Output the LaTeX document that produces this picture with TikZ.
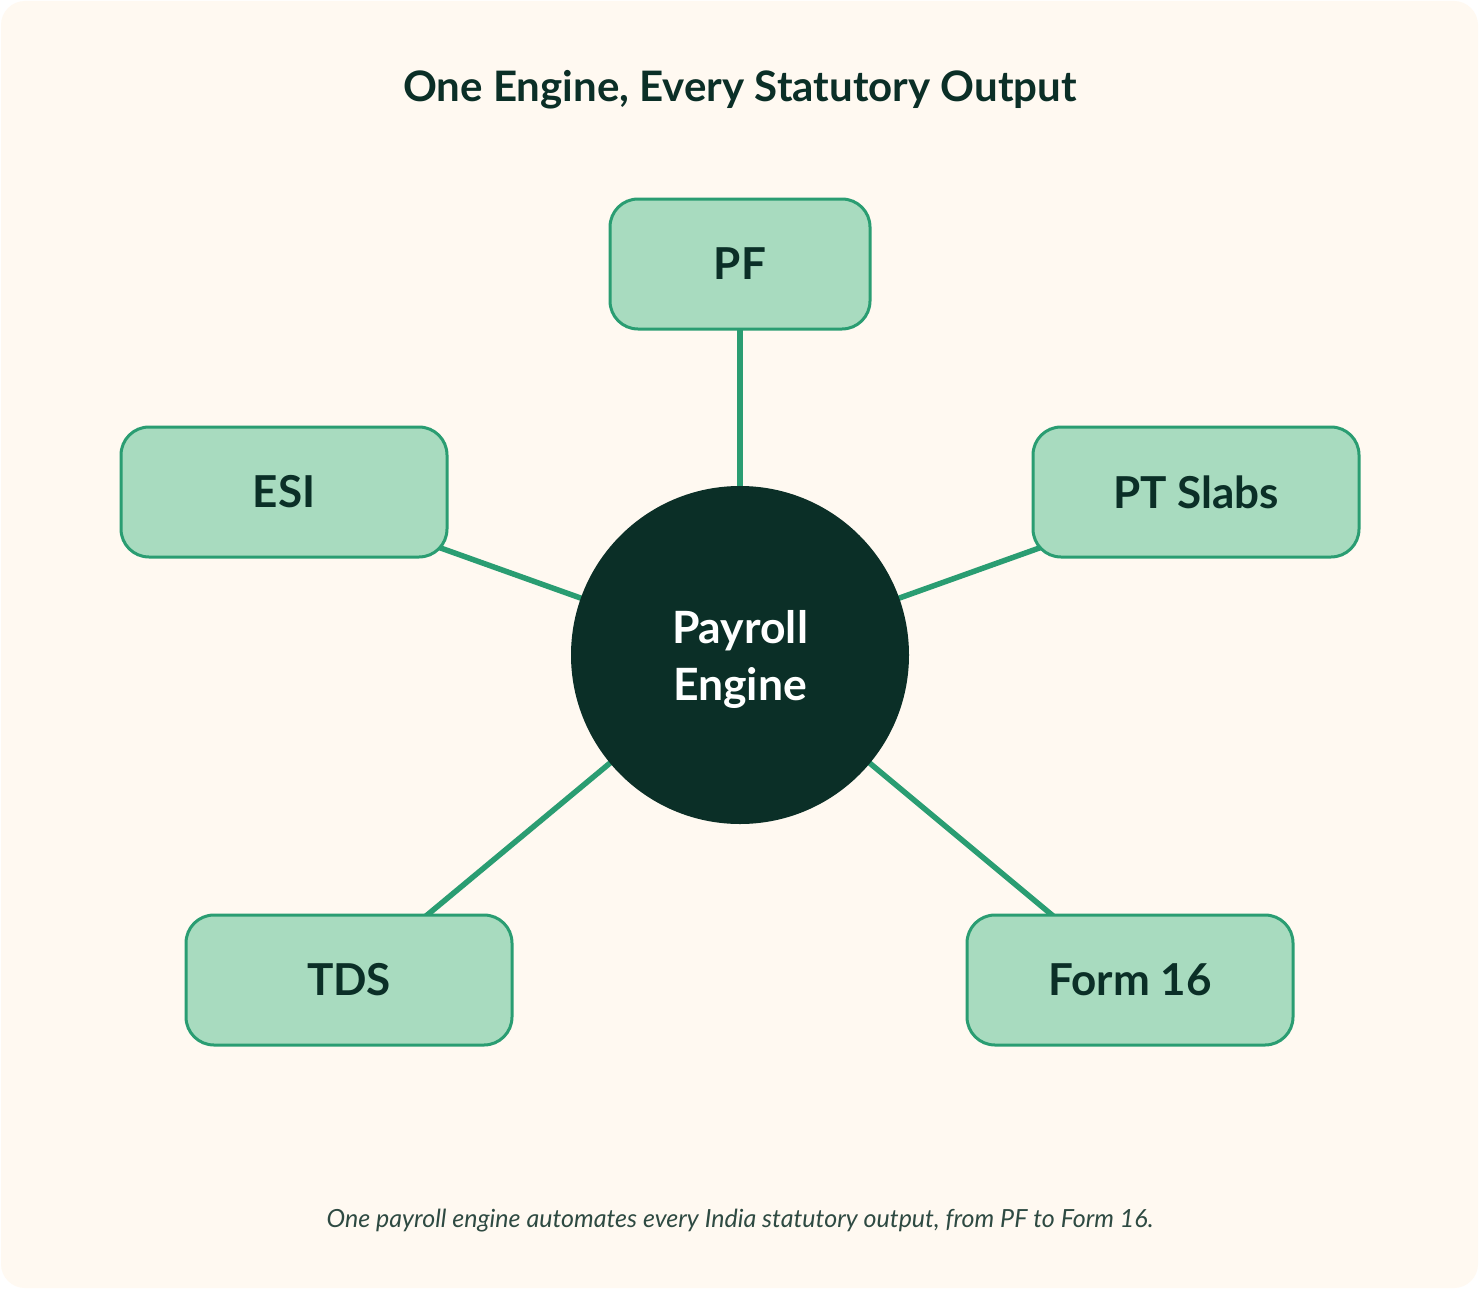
\documentclass[tikz,border=0pt]{standalone}
\usepackage{fontspec}
\setmainfont{Lato}
\usetikzlibrary{positioning}

\definecolor{paper}{HTML}{FFF9F1}
\definecolor{ink}{HTML}{0B2F27}
\definecolor{boxgreen}{HTML}{A8DBBF}
\definecolor{linkgreen}{HTML}{2A9D72}
\definecolor{notegray}{HTML}{2E4A42}

\pgfdeclarelayer{sheet}
\pgfdeclarelayer{links}
\pgfsetlayers{sheet,links,main}

\begin{document}
\begin{tikzpicture}[x=1pt,y=-1pt]
\tikzstyle{output}=[draw=linkgreen,fill=boxgreen,line width=3pt,rounded corners=28pt,minimum width=326pt,minimum height=130pt,text=ink,font=\bfseries\fontsize{44}{50}\selectfont]
\tikzstyle{link}=[draw=linkgreen,line width=5.5pt]

\useasboundingbox (0,0) rectangle (1480,1290);
\begin{pgfonlayer}{sheet}
\fill[white] (0,0) rectangle (1480,1290);
\fill[paper,rounded corners=24pt] (1,1) rectangle (1478,1288);
\end{pgfonlayer}

\node (title) [anchor=base,text=ink,font=\bfseries\fontsize{42}{48}\selectfont] at (740,101) {One Engine, Every Statutory Output};

\node (engine) [circle,fill=ink,minimum size=338pt,inner sep=0pt] at (740,655) {};
\node (engine text) [text=white,align=center,font=\bfseries\fontsize{44.5}{57}\selectfont] at (740,659) {Payroll\\Engine};

\node (pf) [output,minimum width=260pt] at (740,264) {PF};
\node (esi) [output] at (284,492) {ESI};
\node (pt) [output] at (1196,492) {PT Slabs};
\node (tds) [output] at (349,980) {TDS};
\node (form) [output] at (1130,980) {Form 16};

% spokes, centre to centre, kept under the boxes
\begin{pgfonlayer}{links}
\draw [link] (engine.center) -- (pf.center);
\draw [link] (engine.center) -- (esi.center);
\draw [link] (engine.center) -- (pt.center);
\draw [link] (engine.center) -- (tds.center);
\draw [link] (engine.center) -- (form.center);
\end{pgfonlayer}

\node (note) [anchor=base,text=notegray,font=\itshape\fontsize{25}{29}\selectfont] at (740,1227) {One payroll engine automates every India statutory output, from PF to Form 16.};

\end{tikzpicture}
\end{document}
